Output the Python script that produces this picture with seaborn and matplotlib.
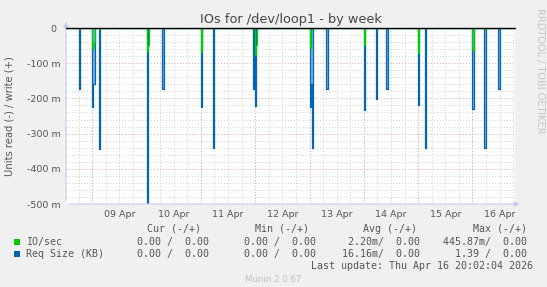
import numpy as np
import pandas as pd
import matplotlib
matplotlib.use("Agg")
import matplotlib.pyplot as plt
import seaborn as sns
from matplotlib.patches import Rectangle

# ---------------- data ----------------
title = "IOs for /dev/loop1 - by week"
ylabel = "Units read (-) / write (+)"
day_labels = ["09 Apr", "10 Apr", "11 Apr", "12 Apr", "13 Apr", "14 Apr", "15 Apr", "16 Apr"]
y_ticks = [0.0, -0.1, -0.2, -0.3, -0.4, -0.5]
y_tick_labels = ["0 ", "-100 m", "-200 m", "-300 m", "-400 m", "-500 m"]

# hours relative to 09 Apr 00:00, values in milli-units (read side -> drawn negative)
req_hours = [-6.0, 0.0, 0.5, 3.0, 24.0, 31.0, 48.0, 53.5, 71.0, 72.0, 96.0, 96.5, 97.0,
             103.5, 120.0, 125.5, 130.0, 144.0, 147.0, 168.0, 173.0, 173.5, 179.5]
req_vals_m = [172, 225, 160, 344, 496, 172, 225, 342, 172, 222, 225, 160, 342,
              172, 232, 201, 172, 220, 342, 229, 342, 342, 172]
io_hours = [0.0, 0.5, 3.0, 24.0, 24.5, 48.0, 72.0, 72.5, 96.0, 120.0, 144.0, 168.0, 173.5]
io_vals_m = [61, 44, 3, 65, 49, 69, 77, 49, 58, 49, 72, 63, 3]

series_names = ["IO/sec", "Req Size (KB)"]
series_colors = ["#00cc00", "#0066b3"]

legend_cur = ["0.00 /  0.00", "0.00 /  0.00"]
legend_min = ["0.00 /  0.00", "0.00 /  0.00"]
legend_avg = ["2.20m/  0.00", "16.16m/  0.00"]
legend_max = ["445.87m/  0.00", "1.39 /  0.00"]
last_update = "Last update: Thu Apr 16 20:02:04 2026"
munin_version = "Munin 2.0.67"
rrd_credit = "RRDTOOL / TOBI OETIKER"

# 30-minute sample grid (all zero except the spikes read above)
step = 0.5
grid = np.arange(-12.0, 187.5, step)


def build(hours, vals, name):
    s = pd.Series(0.0, index=grid)
    for h, v in zip(hours, vals):
        s.loc[h] = -v / 1000.0
    return pd.DataFrame({"hours": grid, "value": s.values, "series": name})


df_io = build(io_hours, io_vals_m, series_names[0])
df_req = build(req_hours, req_vals_m, series_names[1])

# ---------------- figure ----------------
sns.set_style("white")
plt.rcParams["font.family"] = ["DejaVu Sans"]
W, H = 547, 287
fig = plt.figure(figsize=(W / 100, H / 100), dpi=100, facecolor="#f0f0f0")


def fx(x):
    return x / W


def fy(y):
    return 1 - y / H


L, R, T, B = 66, 515, 28, 204
ax = fig.add_axes([fx(L), fy(B), (R - L) / W, (B - T) / H])
ax.set_facecolor("white")

# light body of the request-size spikes (anti-aliased look of the reference)
ax.fill_between(df_req["hours"], df_req["value"], 0, step="post",
                color="#7fb0dc", linewidth=0, zorder=2)
sns.lineplot(data=df_req, x="hours", y="value", color=series_colors[1],
             drawstyle="steps-post", linewidth=0.9, legend=False, estimator=None,
             ax=ax, zorder=3)
sns.lineplot(data=df_io, x="hours", y="value", color=series_colors[0],
             drawstyle="steps-post", linewidth=0.9, legend=False, estimator=None,
             ax=ax, zorder=4)

xmin = (L - 92.3) / 2.2625
xmax = (R - 92.3) / 2.2625
ax.set_xlim(xmin, xmax)
ax.set_ylim(-0.5, 0.0)

# ticks
ax.set_xticks([12 + 24 * i for i in range(len(day_labels))], labels=day_labels)
minor_x = np.arange(-6, 187, 6)
ax.set_xticks(minor_x, minor=True)
ax.xaxis.remove_overlapping_locs = False
ax.set_yticks(y_ticks, labels=y_tick_labels)
ax.set_yticks(np.round(np.arange(-0.5, 0.001, 0.02), 3), minor=True)

ax.tick_params(axis="x", which="major", length=0, pad=4, labelsize=6.8, labelcolor="#555555")
ax.tick_params(axis="x", which="minor", length=2, color="#c8c8c8", direction="in")
ax.tick_params(axis="y", which="major", length=2, pad=4, labelsize=6.8, labelcolor="#555555",
               color="#e8a0a0", direction="in")
ax.tick_params(axis="y", which="minor", length=2, color="#c8c8c8", direction="in")
for loc, t in zip(minor_x, ax.xaxis.get_minor_ticks()):
    if loc % 24 == 0:
        t.tick1line.set_color("#e88080")
ax.set_xlabel("")
ax.set_ylabel("")

# grid
ax.grid(which="minor", color="#cfcfcf", linestyle=(0, (1, 2)), linewidth=0.7)
ax.xaxis.grid(False, which="major")
ax.yaxis.grid(True, which="major", color="#e6a0a0", linestyle=(0, (1, 2)), linewidth=0.7)
for d in range(0, 8 * 24, 24):
    ax.axvline(d, color="#e6a0a0", linestyle=(0, (1, 2)), linewidth=0.7, zorder=1)
ax.set_axisbelow(True)

# zero rule
ax.axhline(0, color="black", linewidth=1.0, zorder=5, clip_on=False)

# axes lines with arrows
for s in ["top", "right", "left", "bottom"]:
    ax.spines[s].set_visible(False)
axis_col = "#c8c8f0"
ax.annotate("", xy=(0, 1.05), xytext=(0, 0), xycoords="axes fraction",
            arrowprops=dict(arrowstyle="-|>", color=axis_col, lw=0.8, mutation_scale=7),
            annotation_clip=False)
ax.annotate("", xy=(1.016, 0), xytext=(0, 0), xycoords="axes fraction",
            arrowprops=dict(arrowstyle="-|>", color=axis_col, lw=0.8, mutation_scale=7),
            annotation_clip=False)

# titles
fig.text(0.5 * (fx(L) + fx(R)), fy(19), title, ha="center", va="center",
         fontsize=9.3, color="#444444")
fig.text(fx(10), fy(116), ylabel, rotation=90, ha="center", va="center",
         fontsize=7.2, color="#555555")
fig.text(fx(540), fy(8), rrd_credit, rotation=270, ha="center", va="top",
         fontsize=7.0, color="#c4c4c4")

# legend table
mono = dict(family="DejaVu Sans Mono", fontsize=7.2, color="#555555", va="center")
for hdr, xr in zip(["Cur (-/+)", "Min (-/+)", "Avg (-/+)", "Max (-/+)"], [200.6, 308.8, 417, 527]):
    fig.text(fx(xr), fy(228.6), hdr, ha="right", **mono)
rows_y = [241.9, 254.0]
for i, name in enumerate(series_names):
    y = rows_y[i]
    fig.patches.append(Rectangle((fx(13.5), fy(y + 3)), 6 / W, 6 / H, transform=fig.transFigure,
                                 facecolor=series_colors[i], edgecolor="none"))
    fig.text(fx(26), fy(y), name, ha="left", **mono)
    for col, xr in zip([legend_cur, legend_min, legend_avg, legend_max], [209.4, 315.8, 420.4, 527]):
        fig.text(fx(xr), fy(y), col[i], ha="right", **mono)
fig.text(fx(533), fy(266.3), last_update, ha="right", **mono)
fig.text(fx(273.5), fy(279.6), munin_version, ha="center", va="center",
         fontsize=6.2, color="#c0c0c0")

fig.savefig("out.png", dpi=100, facecolor=fig.get_facecolor())
